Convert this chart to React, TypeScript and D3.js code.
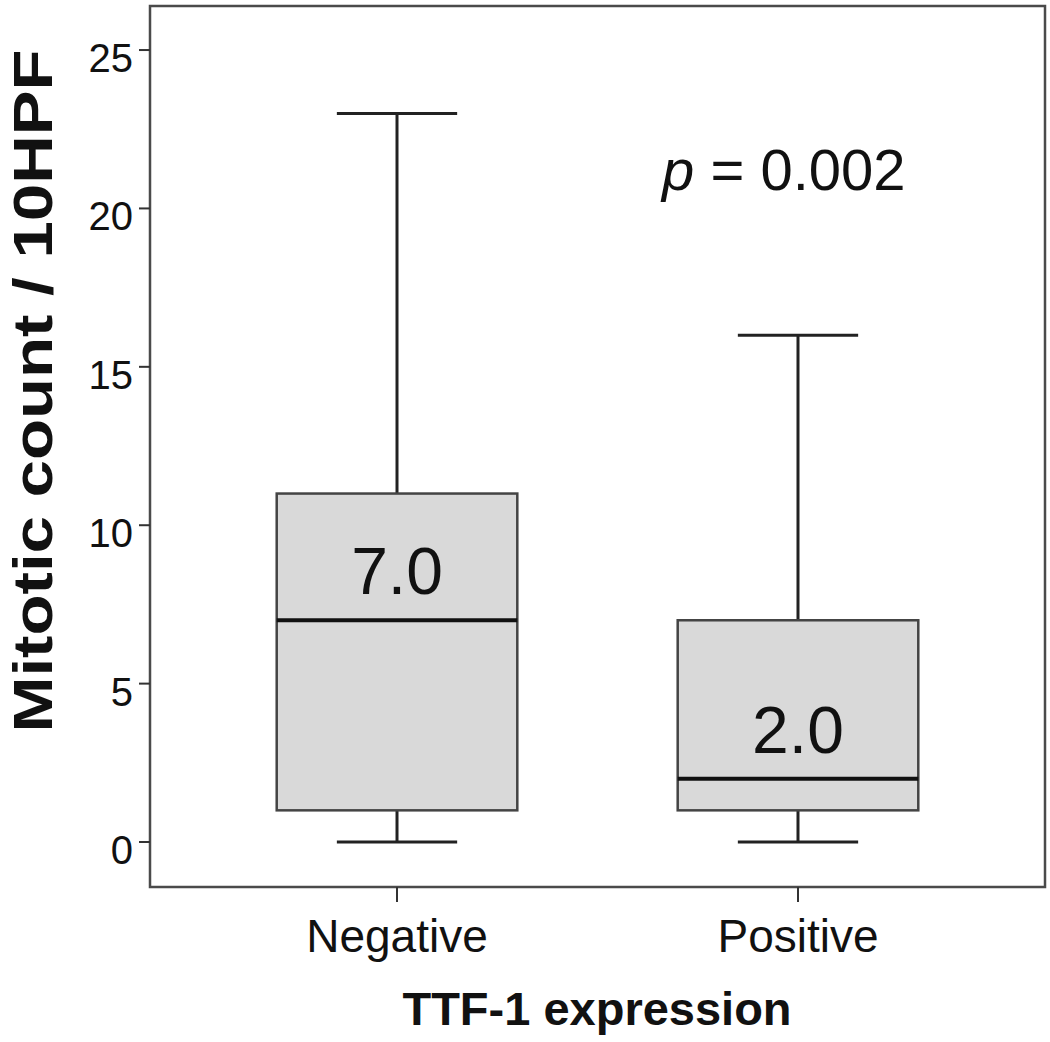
import React from "react";
import * as d3 from "d3";

const categories = ["Negative", "Positive"];
const whiskerLow = [0, 0];
const q1 = [1, 1];
const median = [7, 2];
const q3 = [11, 7];
const whiskerHigh = [23, 16];
const medianLabels = ["7.0", "2.0"];
const yTicks = [0, 5, 10, 15, 20, 25];
const pText = "0.002";

const W = 1050;
const H = 1042;
const frame = { left: 150, right: 1045, top: 6, bottom: 887 };

export default function App() {
  const y = d3.scaleLinear().domain([-1.42, 26.39]).range([frame.bottom, frame.top]);
  const x = d3
    .scalePoint<string>()
    .domain(categories)
    .range([frame.left, frame.right])
    .padding(0.616);
  const step = x.step();
  const boxW = step * 0.6;
  const capW = boxW / 2;
  const font = "'Liberation Sans', Arial, Helvetica, sans-serif";

  return (
    <svg
      width={W}
      height={H}
      style={{ position: "absolute", left: 0, top: 0, background: "#fff" }}
      fontFamily={font}
    >
      <rect
        x={frame.left}
        y={frame.top}
        width={frame.right - frame.left}
        height={frame.bottom - frame.top}
        fill="none"
        stroke="#4a4a4a"
        strokeWidth={2.5}
      />
      {yTicks.map((t) => (
        <g key={t}>
          <line x1={frame.left - 11} x2={frame.left} y1={y(t)} y2={y(t)} stroke="#333" strokeWidth={2} />
          <text x={133} y={y(t) + 22} textAnchor="end" fontSize={40} fill="#111">
            {t}
          </text>
        </g>
      ))}
      {categories.map((c) => (
        <g key={c}>
          <line x1={x(c)} x2={x(c)} y1={frame.bottom} y2={frame.bottom + 15} stroke="#333" strokeWidth={2} />
          <text x={x(c)} y={952} textAnchor="middle" fontSize={46} fill="#111">
            {c}
          </text>
        </g>
      ))}
      {categories.map((c, i) => {
        const cx = x(c) as number;
        return (
          <g key={"b" + c}>
            <line x1={cx} x2={cx} y1={y(whiskerHigh[i])} y2={y(q3[i])} stroke="#222" strokeWidth={3} />
            <line x1={cx} x2={cx} y1={y(q1[i])} y2={y(whiskerLow[i])} stroke="#222" strokeWidth={3} />
            <line x1={cx - capW / 2} x2={cx + capW / 2} y1={y(whiskerHigh[i])} y2={y(whiskerHigh[i])} stroke="#222" strokeWidth={3} />
            <line x1={cx - capW / 2} x2={cx + capW / 2} y1={y(whiskerLow[i])} y2={y(whiskerLow[i])} stroke="#222" strokeWidth={3} />
            <rect
              x={cx - boxW / 2}
              y={y(q3[i])}
              width={boxW}
              height={y(q1[i]) - y(q3[i])}
              fill="#d9d9d9"
              stroke="#444"
              strokeWidth={2.5}
            />
            <line x1={cx - boxW / 2} x2={cx + boxW / 2} y1={y(median[i])} y2={y(median[i])} stroke="#111" strokeWidth={4} />
            <text x={cx} y={y(median[i]) - 26} textAnchor="middle" fontSize={66} fill="#111">
              {medianLabels[i]}
            </text>
          </g>
        );
      })}
      <text x={662} y={190} fontSize={58} fill="#111">
        <tspan fontStyle="italic">p</tspan>
        <tspan> = {pText}</tspan>
      </text>
      <text
        transform={`translate(52, 391) rotate(-90) scale(1.2, 1)`}
        textAnchor="middle"
        fontSize={56}
        fontWeight="bold"
        fill="#111"
      >
        Mitotic count / 10HPF
      </text>
      <text x={597} y={1025} textAnchor="middle" fontSize={47} fontWeight="bold" fill="#111">
        TTF-1 expression
      </text>
    </svg>
  );
}
